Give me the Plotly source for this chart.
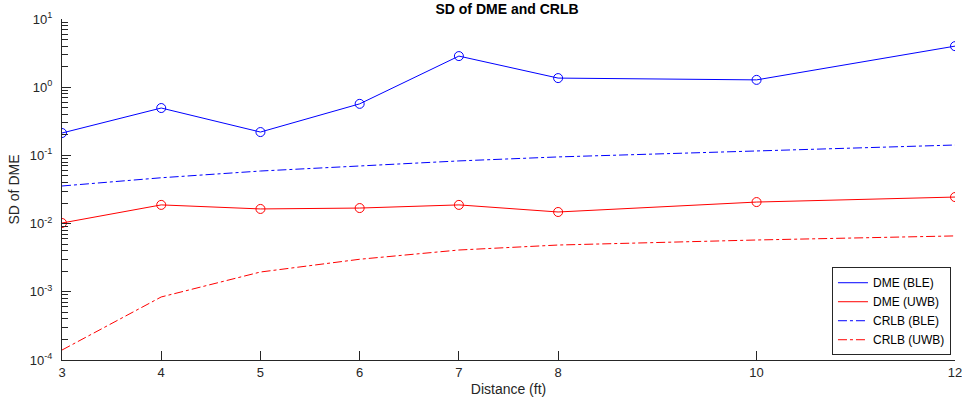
import plotly.graph_objects as go

distance = [3, 4, 5, 6, 7, 8, 10, 12]
dme_ble = [0.213, 0.495, 0.22, 0.57, 2.86, 1.36, 1.28, 4.0]
dme_uwb = [0.0102, 0.0188, 0.0164, 0.0169, 0.0188, 0.0148, 0.0207, 0.0245]
crlb_ble = [0.0356, 0.047, 0.059, 0.070, 0.083, 0.095, 0.116, 0.142]
crlb_uwb = [1.4e-4, 8.4e-4, 1.95e-3, 3.0e-3, 4.1e-3, 4.85e-3, 5.75e-3, 6.6e-3]
y_ticks = [1e-4, 1e-3, 1e-2, 1e-1, 1e0, 1e1]
y_ticktext = ["10<sup>-4</sup>", "10<sup>-3</sup>", "10<sup>-2</sup>",
              "10<sup>-1</sup>", "10<sup>0</sup>", "10<sup>1</sup>"]

BLUE = "rgb(0,0,255)"
RED = "rgb(255,0,0)"
INK = "#262626"
FONT = "Liberation Sans, Arial, Helvetica, sans-serif"

minor_vals = [m * d for d in y_ticks[:-1] for m in range(2, 10)]

fig = go.Figure()
fig.add_trace(go.Scatter(x=distance, y=dme_ble, name="DME (BLE)", mode="lines",
                         line=dict(color=BLUE, width=1)))
fig.add_trace(go.Scatter(x=distance, y=dme_uwb, name="DME (UWB)", mode="lines",
                         line=dict(color=RED, width=1)))
fig.add_trace(go.Scatter(x=distance, y=crlb_ble, name="CRLB (BLE)", mode="lines",
                         line=dict(color=BLUE, width=1, dash="dashdot")))
fig.add_trace(go.Scatter(x=distance, y=crlb_uwb, name="CRLB (UWB)", mode="lines",
                         line=dict(color=RED, width=1, dash="dashdot")))
fig.add_trace(go.Scatter(x=distance, y=dme_ble, mode="markers", showlegend=False,
                         marker=dict(symbol="circle-open", size=9, color=BLUE, line=dict(width=1))))
fig.add_trace(go.Scatter(x=distance, y=dme_uwb, mode="markers", showlegend=False,
                         marker=dict(symbol="circle-open", size=9, color=RED, line=dict(width=1))))
# invisible carrier trace for the minor-tick overlay axis
fig.add_trace(go.Scatter(x=distance, y=dme_uwb, mode="lines", showlegend=False,
                         line=dict(color="rgba(0,0,0,0)", width=0), hoverinfo="skip",
                         yaxis="y2"))

fig.update_layout(
    width=962, height=409,
    margin=dict(l=62, r=7, t=19, b=49),
    paper_bgcolor="white", plot_bgcolor="white",
    font=dict(family=FONT, size=13, color=INK),
    showlegend=True,
    title=dict(text="<b>SD of DME and CRLB</b>", x=507 / 962,
               xanchor="center", y=1 - 9 / 409, yanchor="middle", yref="container",
               font=dict(size=14, color="black")),
    legend=dict(x=0.9955, y=0.014, xanchor="right", yanchor="bottom",
                bgcolor="white", bordercolor=INK, borderwidth=1,
                font=dict(size=12, color="black"), tracegroupgap=0),
    xaxis=dict(range=[3, 12], tickmode="array", tickvals=distance, automargin=False,
               ticks="inside", ticklen=9, tickwidth=1, tickcolor=INK, showline=True,
               linecolor=INK, linewidth=1, showgrid=False, zeroline=False,
               ticklabeloverflow="allow",
               title=dict(text="Distance (ft)", standoff=5, font=dict(size=14)),
               tickfont=dict(size=13, color=INK)),
    yaxis=dict(type="log", range=[-4, 1], tickmode="array", tickvals=y_ticks,
               ticktext=y_ticktext, ticks="inside", ticklen=9, tickwidth=1, tickcolor=INK,
               showline=True, linecolor=INK, linewidth=1, showgrid=False, zeroline=False,
               automargin=False, ticklabelstandoff=6,
               ticklabeloverflow="allow",
               title=dict(text="SD of DME", standoff=6, font=dict(size=14)),
               tickfont=dict(size=13, color=INK)),
    yaxis2=dict(type="log", range=[-4, 1], overlaying="y", side="left", anchor="x",
                tickmode="array", tickvals=minor_vals, ticks="inside", ticklen=6,
                tickwidth=1, tickcolor=INK, showticklabels=False, showgrid=False,
                zeroline=False, showline=False, automargin=False),
)

fig.write_html("out.html")
